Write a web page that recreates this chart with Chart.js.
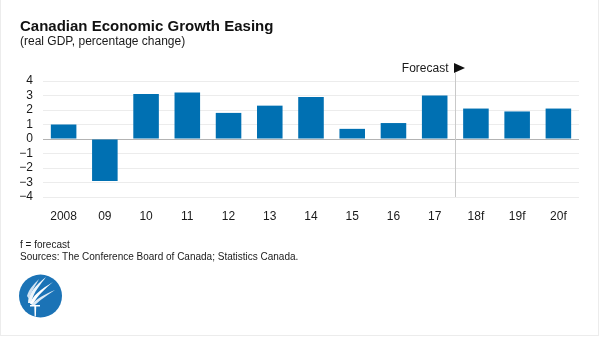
<!DOCTYPE html>
<html>
<head>
<meta charset="utf-8">
<script src="https://cdn.jsdelivr.net/npm/chart.js@4"></script>
<style>
  html, body { margin: 0; padding: 0; background: #fff; }
  #wrap { position: relative; width: 600px; height: 337px; overflow: hidden; font-family: "Liberation Sans", Arial, sans-serif; color: #1a1a1a; }
  #frame { position: absolute; left: 0; top: 0; width: 597px; height: 335px; border-left: 1px solid #ececec; border-right: 1px solid #ececec; border-bottom: 1px solid #ececec; pointer-events: none; }
  #chartbox { position: absolute; left: 0; top: 0; width: 600px; height: 337px; }
  .t { position: absolute; left: 20px; white-space: nowrap; }
  #title { top: 18px; font-size: 15px; line-height: 15px; font-weight: bold; color: #111; }
  #sub { top: 35px; font-size: 12px; line-height: 12px; }
  #f1 { top: 239.5px; font-size: 10px; line-height: 10px; }
  #f2 { top: 251.5px; font-size: 10px; line-height: 10px; }
  #logo { position: absolute; left: 19px; top: 274px; }
</style>
</head>
<body>
<div id="wrap">
  <div id="chartbox"><canvas id="c" width="600" height="337"></canvas></div>
  <div class="t" id="title">Canadian Economic Growth Easing</div>
  <div class="t" id="sub">(real GDP, percentage change)</div>
  <div class="t" id="f1">f = forecast</div>
  <div class="t" id="f2">Sources: The Conference Board of Canada; Statistics Canada.</div>
  <svg id="logo" width="44" height="44" viewBox="0 0 44 44">
    <circle cx="21.5" cy="22" r="21.5" fill="#1b73b6"/>
    <path d="M9 29 C 9 20, 16 12, 27 3 C 22 10, 15 17, 12 29 Z" fill="#eef5fb"/>
    <path d="M11 30 C 13 22, 22 15, 34 8 C 27 14, 18 22, 14 30 Z" fill="#ffffff"/>
    <path d="M12 31 C 17 25, 26 20, 36 16 C 28 21, 20 27, 16 31 Z" fill="#dbe9f5"/>
    <path d="M8 22 C 10 15, 15 10, 20 5 C 17 11, 13 16, 10 25 Z" fill="#cfe1f1"/>
    <path d="M11 31 L 21 31 L 21 32.6 L 17.2 32.6 L 16.9 42.5 L 15.6 42.5 L 15.3 32.6 L 11 32.6 Z" fill="#fff"/>
  </svg>
  <div id="frame"></div>
</div>
<script>
const categories = ["2008", "09", "10", "11", "12", "13", "14", "15", "16", "17", "18f", "19f", "20f"];
const gdpGrowth = [1.0, -2.9, 3.1, 3.2, 1.8, 2.3, 2.9, 0.7, 1.1, 3.0, 2.1, 1.9, 2.1];
const yTicks = [-4, -3, -2, -1, 0, 1, 2, 3, 4];
const forecastLabel = "Forecast";
const firstForecastIndex = 10;

const forecastPlugin = {
  id: 'forecast',
  afterDatasetsDraw(chart) {
    const ctx = chart.ctx;
    const xs = chart.scales.x;
    const area = chart.chartArea;
    const x = Math.round((xs.getPixelForValue(firstForecastIndex - 1) + xs.getPixelForValue(firstForecastIndex)) / 2) + 0.5;
    ctx.save();
    ctx.strokeStyle = '#c9c9c9';
    ctx.lineWidth = 1;
    ctx.beginPath();
    ctx.moveTo(x, area.top - 8);
    ctx.lineTo(x, area.bottom);
    ctx.stroke();
    const ty = area.top - 13;
    ctx.fillStyle = '#111';
    ctx.beginPath();
    ctx.moveTo(x - 1.5, ty - 5);
    ctx.lineTo(x + 9.5, ty);
    ctx.lineTo(x - 1.5, ty + 5);
    ctx.closePath();
    ctx.fill();
    ctx.font = '12px "Liberation Sans", Arial, sans-serif';
    ctx.textAlign = 'right';
    ctx.textBaseline = 'middle';
    ctx.fillStyle = '#1a1a1a';
    ctx.fillText(forecastLabel, x - 7, ty + 0.5);
    ctx.restore();
  }
};

new Chart(document.getElementById('c'), {
  type: 'bar',
  data: {
    labels: categories,
    datasets: [{
      data: gdpGrowth,
      backgroundColor: '#0070b2',
      borderWidth: 0,
      categoryPercentage: 1.0,
      barPercentage: 0.62
    }]
  },
  options: {
    responsive: false,
    animation: false,
    devicePixelRatio: 1,
    layout: { padding: { left: 0, right: 21, top: 81, bottom: 110 } },
    plugins: { legend: { display: false }, tooltip: { enabled: false }, title: { display: false } },
    scales: {
      x: {
        grid: { display: false, drawTicks: false },
        border: { display: false },
        ticks: { color: '#1a1a1a', font: { family: '"Liberation Sans", Arial, sans-serif', size: 12 }, padding: 12, maxRotation: 0, autoSkip: false },
        afterFit(s) { s.height = 30; }
      },
      y: {
        min: yTicks[0], max: yTicks[yTicks.length - 1],
        afterBuildTicks(s) { s.ticks = yTicks.map(v => ({ value: v })); },
        grid: {
          drawTicks: false,
          color: ctx => (ctx.tick && ctx.tick.value === 0) ? '#b3b3b3' : '#ececec',
          lineWidth: 1
        },
        border: { display: false },
        ticks: {
          autoSkip: false,
          color: '#1a1a1a',
          font: { family: '"Liberation Sans", Arial, sans-serif', size: 12 },
          padding: 10,
          callback: v => (v < 0 ? '\u2212' + Math.abs(v) : String(v))
        },
        afterFit(s) { s.width = 43; }
      }
    }
  },
  plugins: [forecastPlugin]
});
</script>
</body>
</html>
